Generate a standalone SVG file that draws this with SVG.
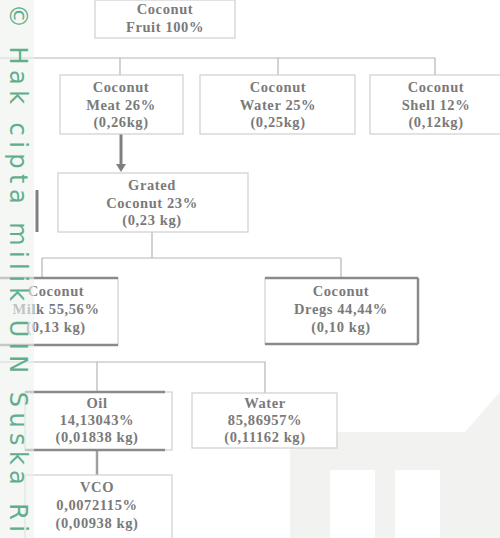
<svg xmlns="http://www.w3.org/2000/svg" width="500" height="538" viewBox="0 0 500 538">
<style>
.box{fill:#fff;stroke:#cfcfcf;stroke-width:1.2}
.t{font-family:"Liberation Serif",serif;font-size:14.5px;fill:#7a7a7a;text-anchor:middle;font-weight:bold;letter-spacing:0.6px}
.c{fill:none;stroke:#b5b5b5;stroke-width:1.2}
.thick{fill:none;stroke:#808080;stroke-width:3}
.wm{font-family:"DejaVu Sans",sans-serif;font-size:24px;fill:#5fae8c}
</style>
<rect width="500" height="538" fill="#fff"/>
<g id="watermark-logo" fill="#f2f2f0">
<path d="M290 432 H465 L500 392 V538 H440 V470 H395 V538 H375 V470 H330 V538 H290 Z"/>
</g>
<g id="connectors">
<path class="c" d="M0 58 H435 V75"/>
<path class="c" d="M120 58 V75"/>
<path class="c" d="M278 58 V75"/>
<path class="thick" d="M121 134 V168"/>
<path d="M116 164 L121 172 L126 164 Z" fill="#808080"/>
<path class="c" d="M152 232 V258 M42 258 H341 M42 258 V278 M341 258 V278"/>
<path class="c" d="M0 362 H265 V393 M97 362 V392"/>
<path d="M97 450 V475" fill="none" stroke="#a0a0a0" stroke-width="2.5"/>
<path class="thick" d="M37 190 V232"/>
</g>
<g id="n-fruit">
<rect class="box" x="95" y="0" width="140" height="38"/>
<text class="t" x="165" y="14">Coconut</text>
<text class="t" x="165" y="32">Fruit 100%</text>
</g>
<g id="n-meat">
<rect class="box" x="60" y="75" width="123" height="59"/>
<text class="t" x="121" y="92">Coconut</text>
<text class="t" x="121" y="110">Meat 26%</text>
<text class="t" x="121" y="127">(0,26kg)</text>
</g>
<g id="n-water">
<rect class="box" x="200" y="75" width="155" height="59"/>
<text class="t" x="278" y="92">Coconut</text>
<text class="t" x="278" y="110">Water 25%</text>
<text class="t" x="278" y="127">(0,25kg)</text>
</g>
<g id="n-shell">
<rect class="box" x="370" y="75" width="132" height="59"/>
<text class="t" x="436" y="92">Coconut</text>
<text class="t" x="436" y="110">Shell 12%</text>
<text class="t" x="436" y="127">(0,12kg)</text>
</g>
<g id="n-grated">
<rect class="box" x="58" y="173" width="190" height="59"/>
<text class="t" x="152" y="190">Grated</text>
<text class="t" x="152" y="208">Coconut 23%</text>
<text class="t" x="152" y="225">(0,23 kg)</text>
</g>
<g id="n-milk">
<rect class="box" x="-5" y="278" width="123" height="67"/>
<path d="M-5 278 H118 M-5 345 H118" stroke="#8a8a8a" stroke-width="2.5"/>
<text class="t" x="56" y="296">Coconut</text>
<text class="t" x="56" y="314">Milk 55,56%</text>
<text class="t" x="56" y="332">(0,13 kg)</text>
</g>
<g id="n-dregs">
<rect class="box" x="265" y="278" width="153" height="66"/>
<path d="M265 278 H418 M265 344 H418 M418 278 V344" stroke="#8a8a8a" stroke-width="2.5"/>
<text class="t" x="341" y="296">Coconut</text>
<text class="t" x="341" y="314">Dregs 44,44%</text>
<text class="t" x="341" y="332">(0,10 kg)</text>
</g>
<g id="n-oil">
<rect class="box" x="25" y="392" width="147" height="58"/>
<path d="M25 392 H165 M25 450 H165" stroke="#8a8a8a" stroke-width="2.5"/>
<text class="t" x="97" y="408">Oil</text>
<text class="t" x="97" y="425">14,13043%</text>
<text class="t" x="97" y="442">(0,01838 kg)</text>
</g>
<g id="n-water2">
<rect class="box" x="192" y="393" width="145" height="55"/>
<text class="t" x="265" y="408">Water</text>
<text class="t" x="265" y="425">85,86957%</text>
<text class="t" x="265" y="442">(0,11162 kg)</text>
</g>
<g id="n-vco">
<rect class="box" x="25" y="475" width="147" height="65"/>
<text class="t" x="97" y="492">VCO</text>
<text class="t" x="97" y="510">0,0072115%</text>
<text class="t" x="97" y="528">(0,00938 kg)</text>
</g>
<g id="watermark-text">
<rect x="0" y="0" width="34" height="538" fill="#eef1ee" opacity="0.6"/>
<text class="wm" transform="translate(10,4) rotate(90)" textLength="528" lengthAdjust="spacing">© Hak cipta milik UIN Suska Ri</text>
</g>
</svg>
